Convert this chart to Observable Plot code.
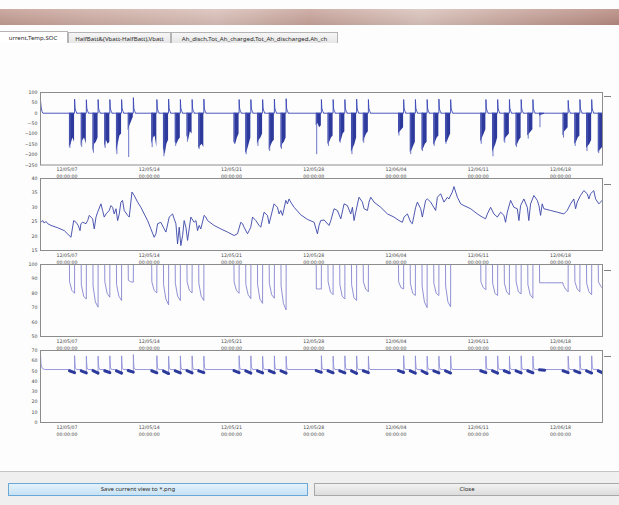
<!DOCTYPE html>
<html><head><meta charset="utf-8">
<script src="https://cdn.jsdelivr.net/npm/d3@7"></script>
<script src="https://cdn.jsdelivr.net/npm/@observablehq/plot@0.6"></script>
<style>
html,body{margin:0;padding:0;width:619px;height:505px;overflow:hidden;background:#fdfdfd;font-family:"Noto Sans",sans-serif;position:relative;}
#band{position:absolute;left:0;top:9px;width:619px;height:16px;
 background:linear-gradient(to right,#c39c92 0%,#cfaea5 15%,#d9c0b8 35%,#c7a39a 50%,#dac3bb 68%,#caa9a0 82%,#b68a80 100%);}
#band2{position:absolute;left:0;top:9px;width:619px;height:16px;background:linear-gradient(to bottom,rgba(255,255,255,0.15),rgba(0,0,0,0.06));}
.tab{position:absolute;top:32px;height:11px;border:1px solid #b4b4b4;border-bottom:none;background:linear-gradient(#f6f6f6,#e6e6e6);
 font-size:6.1px;line-height:11px;color:#2a2a2a;white-space:nowrap;text-align:center;box-sizing:border-box;}
.tab.active{background:#fff;height:12px;top:31px;}
#sep{position:absolute;left:0;top:471px;width:619px;height:34px;background:#efefef;border-top:1px solid #c4c4c4;}
.btn{position:absolute;top:483px;height:13px;box-sizing:border-box;font-size:6px;line-height:11px;color:#2a2a2a;text-align:center;white-space:nowrap;}
#save{left:8px;width:300px;border:1px solid #6aa8d8;background:linear-gradient(#e4f2fb,#c6e2f5);}
#close{left:314px;width:320px;border:1px solid #a8a8a8;background:linear-gradient(#f2f2f2,#dcdcdc);}
.leg{position:absolute;left:604px;width:7px;height:1px;background:#808080;}
</style></head>
<body>
<div id="band"></div><div id="band2"></div>
<div class="tab active" style="left:-2px;width:70px;">urrent,Temp,SOC</div>
<div class="tab" style="left:68px;width:103px;">HalfBatt&amp;(Vbatt-HalfBatt),Vbatt</div>
<div class="tab" style="left:171px;width:167px;">Ah_disch,Tot_Ah_charged,Tot_Ah_discharged,Ah_ch</div>
<div id="sep"></div>
<div class="btn" id="save" style="text-indent:-40px">Save current view to *.png</div>
<div class="btn" id="close" style="text-indent:-14px">Close</div>
<div class="leg" style="top:96px"></div>
<div class="leg" style="top:184px"></div>
<div class="leg" style="top:270px"></div>
<div class="leg" style="top:356px"></div>
<script>
// ---------- time axis ----------
const BASE = Date.UTC(2012, 4, 7);          // 12/05/07 00:00:00 (Monday)
const DAY = 864e5, HOUR = 36e5;
const at = (day, hour = 0) => new Date(BASE + day * DAY + hour * HOUR);
const xStartDay = -2.253, xEndDay = 45.57;
const tickDates = ["2012-05-07", "2012-05-14", "2012-05-21", "2012-05-28", "2012-06-04", "2012-06-11", "2012-06-18"];
const tickLabels = ["12/05/07\n00:00:00", "12/05/14\n00:00:00", "12/05/21\n00:00:00", "12/05/28\n00:00:00",
                    "12/06/04\n00:00:00", "12/06/11\n00:00:00", "12/06/18\n00:00:00"];

// ---------- y ticks ----------
const currentTicks = [100, 50, 0, -50, -100, -150, -200, -250];
const tempTicks = [15, 20, 25, 30, 35, 40];
const socTicks = [50, 60, 70, 80, 90, 100];
const voltTicks = [0, 10, 20, 30, 40, 50, 60, 70];

// ---------- working cycles (day offsets from 12/05/07) ----------
const cycleDay = [0, 1, 2, 3, 4, 5, 7, 8, 9, 10, 11, 14, 15, 16, 17, 18, 21, 22, 23, 24, 25,
                  28, 29, 30, 31, 32, 35, 36, 37, 38, 39, 40, 42, 43, 44, 45];
const dischargeHours = [5, 8.5, 12, 15.5];
const chargeHours = [15.6, 16.5, 18, 19.5, 19.6];
const chargeTail = [25, 10, 6, 0];

// Current (A)
const initCurrent = [[-2.26, 0], [-2.25, 58], [-2.19, 25], [-2.12, 8], [-2.05, 0]];
const currentEnvelope = [
  [-165, -150, -120, -140], [-160, -130, -120, -150], [-185, -150, -140, -120], [-165, -130, -150, -140], [-190, -150, -110, -100], [-85, -60, -40, -20],
  [-150, -120, -110, -165], [-170, -200, -150, -130], [-140, -150, -130, -120], [-110, -130, -90, -100], [-170, -160, -150, -165],
  [-140, -150, -120, -100], [-195, -180, -150, -120], [-150, -130, -120, -100], [-180, -160, -140, -130], [-170, -150, -140, -120],
  [-60, -50, -70, -60], [-150, -140, -120, -110], [-140, -130, -100, -90], [-190, -170, -150, -120], [-140, -120, -100, -90],
  [-100, -90, -80, -70], [-190, -180, -160, -140], [-180, -170, -150, -140], [-155, -140, -120, -110], [-140, -140, -120, -100],
  [-140, -120, -100, -80], [-190, -170, -150, -120], [-140, -120, -110, -100], [-160, -150, -130, -120], [-110, -100, -90, -80], [-15, -10, -8, -5],
  [-110, -90, -80, -70], [-150, -140, -120, -110], [-170, -160, -150, -130], [-190, -180, -170, -160]
];
const currentMin = [-170, -165, -193, -170, -200, -214, -166, -210, -160, -140, -175, -150, -200, -160, -185, -175,
                    -200, -160, -145, -200, -145, -110, -200, -185, -160, -150, -150, -210, -145, -165, -125, -70,
                    -120, -160, -185, -195];
const chargePeak = [68, 65, 66, 66, 66, 75, 66, 68, 66, 66, 68, 66, 66, 66, 68, 70, 66, 66, 66, 68, 66,
                    66, 66, 66, 68, 66, 66, 66, 66, 66, 66, 0, 62, 66, 66, 0];

// Temperature (°C)
const tempDay = [-2.21, -2.07, -1.93, -1.79, -1.64, -1.36, -0.79, -0.23, 0.34, 0.57, 0.77, 0.96, 1.11, 1.19, 1.33, 1.62, 1.76, 1.90,
  2.18, 2.32, 2.47, 2.61, 2.89, 3.03, 3.17, 3.32, 3.60, 3.74, 3.88, 4.02, 4.17, 4.31, 4.45, 4.59, 4.73, 4.87, 5.16, 5.30,
  5.53, 5.72, 6.01, 6.29, 6.57, 6.86, 7.14, 7.42, 7.57, 7.71, 7.99, 8.27, 8.42, 8.70, 8.99, 9.12, 9.27, 9.41, 9.55, 9.69,
  9.84, 9.97, 10.12, 10.26, 10.54, 10.82, 10.97, 11.11, 11.25, 11.39, 11.67, 11.82, 11.96, 12.52, 13.09, 13.66, 14.22,
  14.51, 14.79, 14.94, 15.07, 15.36, 15.50, 15.64, 15.79, 16.07, 16.35, 16.49, 16.77, 17.06, 17.20, 17.34, 17.62, 17.91,
  18.05, 18.19, 18.34, 18.47, 18.62, 18.76, 18.90, 19.04, 19.33, 19.89, 20.46, 21.03, 21.31, 21.45, 21.59, 21.88, 22.30,
  22.45, 22.73, 23.01, 23.30, 23.58, 23.86, 24.15, 24.29, 24.43, 24.57, 24.85, 25.14, 25.28, 25.57, 25.70, 25.85, 26.13,
  26.70, 27.27, 27.83, 28.25, 28.54, 28.68, 28.97, 29.25, 29.39, 29.67, 29.82, 30.10, 30.24, 30.52, 30.67, 30.95, 31.37,
  31.52, 31.80, 32.08, 32.37, 32.50, 32.79, 32.93, 33.22, 33.50, 33.78, 34.35, 34.92, 35.34, 35.62, 35.77, 36.05, 36.33,
  36.62, 36.90, 37.18, 37.32, 37.47, 37.75, 38.03, 38.32, 38.46, 38.60, 38.88, 39.17, 39.30, 39.45, 39.73, 40.02, 40.16,
  40.30, 40.44, 40.58, 41.15, 41.72, 42.28, 42.57, 42.85, 43.13, 43.28, 43.42, 43.70, 43.98, 44.27, 44.41, 44.55, 44.83,
  44.98, 45.26, 45.54];
const tempVal = [24.8, 25.4, 24.5, 25.1, 24.3, 23.7, 22.9, 21.9, 19.6, 25.4, 24.8, 23.7, 21.9, 24.3, 24.8, 24.3, 25.4, 27.2,
  26.0, 22.5, 26.6, 28.3, 31.2, 28.9, 26.6, 27.7, 28.9, 30.6, 30.0, 27.7, 29.5, 25.4, 27.7, 31.8, 32.4, 28.9, 27.2, 26.6,
  35.3, 34.1, 31.8, 30.0, 27.7, 25.4, 22.5, 19.6, 20.8, 24.3, 24.8, 22.5, 21.4, 26.6, 27.7, 26.0, 24.3, 17.3, 23.1, 16.7,
  20.2, 25.4, 23.1, 18.5, 26.6, 24.8, 25.4, 21.9, 23.7, 22.5, 27.2, 26.6, 25.4, 23.7, 22.5, 21.4, 20.2,
  20.8, 24.8, 24.3, 23.1, 20.8, 21.9, 23.1, 26.6, 25.4, 23.7, 23.1, 28.3, 27.2, 24.3, 26.6, 31.2, 30.0,
  27.7, 28.9, 27.2, 29.5, 32.4, 31.2, 32.9, 31.8, 30.0, 27.4, 25.8, 24.8, 20.8, 23.7, 25.4, 25.6, 23.7,
  25.4, 29.5, 28.9, 26.0, 31.2, 30.6, 27.7, 30.0, 25.4, 28.3, 33.5, 31.8, 29.5, 28.9, 31.8, 33.5, 31.8,
  30.0, 27.7, 26.6, 25.4, 24.8, 26.6, 27.7, 24.8, 24.3, 30.0, 31.8, 29.5, 26.6, 32.4, 32.9, 31.8, 28.9,
  33.5, 34.7, 31.8, 33.5, 32.9, 35.3, 37.2, 33.5, 31.2, 30.6, 29.5, 27.7, 26.6, 26.0, 27.7, 30.0, 27.7,
  26.6, 28.3, 27.2, 24.8, 28.3, 32.4, 30.0, 29.5, 25.4, 30.6, 32.9, 30.0, 25.4, 31.2, 34.1, 32.4, 30.6,
  27.2, 31.2, 29.5, 28.9, 28.3, 27.7, 28.9, 31.2, 32.9, 29.5, 31.8, 34.1, 35.8, 34.7, 32.9, 34.7, 35.8,
  32.9, 31.2, 32.4];

// SOC (%) per cycle: [after first drop, middle of shift, end of shift]
const initSoc = [[-2.26, 85], [-2.245, 100]];
const socProfile = [
  [88, 82, 80], [86, 78, 76], [85, 74, 70.4], [88, 80, 77.3], [86, 78, 75], [89, 88, 87.7],
  [88, 82, 80.3], [86, 76, 72], [87, 78, 75], [88, 82, 80.3], [87, 78, 75],
  [88, 82, 80], [86, 79, 76.2], [86, 76, 73], [87, 79, 76.6], [85, 73, 68.5],
  [83, 83, 83], [88, 81, 79], [86, 78, 76], [86, 77, 75], [88, 83, 81],
  [88, 84, 83], [87, 80, 78.5], [85, 74, 70], [87, 80, 78.5], [85, 74, 70.6],
  [88, 84, 82.5], [87, 80, 78.5], [87, 81, 79], [88, 81, 79.6], [86, 79, 76.6], [87.3, 87.3, 87.3],
  [86, 83, 81], [88, 83, 81], [87, 81, 79], [88, 85, 83]
];

// Voltage (V)
const initVolt = [[-2.26, 51], [-2.25, 65], [-2.2, 56], [-2.1, 52.5], [-1.9, 51.5]];
const voltRest = 51.5;
const voltStart = [50.3, 50.2, 50.4, 50.3, 50.2, 50.6, 50.3, 50.0, 50.3, 50.4, 50.2, 50.4, 50.2, 50.3, 50.3, 50.1,
                   50.5, 50.3, 50.2, 50.2, 50.3, 50.4, 50.2, 50.1, 50.3, 50.2, 50.3, 50.2, 50.3, 50.2, 50.3, 51.2,
                   50.3, 50.2, 50.2, 50.2];
const voltEnd = [48.5, 48.2, 48.0, 48.4, 48.0, 49.0, 48.3, 47.6, 48.2, 48.3, 48.5, 48.4, 48.0, 48.2, 48.3, 48.0,
                 48.8, 48.3, 48.2, 47.8, 48.4, 48.6, 48.0, 47.6, 48.2, 48.1, 48.4, 48.0, 48.3, 48.2, 48.3, 50.8,
                 48.5, 48.3, 48.1, 48.0];
const voltPeak = [65, 64.5, 64.5, 64.8, 64.8, 66, 65, 64.5, 64.8, 64.8, 64.5, 65, 64.8, 64.5, 64.8, 64.5,
                  65, 64.5, 64.8, 64.8, 64.5, 65, 64.8, 64.5, 64.5, 64.8, 64.5, 64.8, 64.5, 64.8, 64.5, 0,
                  64.5, 64.8, 64.8, 0];
const voltSpikeHours = [15.6, 16.2, 17, 19];
const voltSpikeTail = [58, 53.5];

// ---------- build tables ----------
const curLine = initCurrent.map(([d, v]) => ({x: at(d), y: v}));
const curArea = [], curStrand = [];
cycleDay.forEach((d, i) => {
  curLine.push({x: at(d, dischargeHours[0]), y: 0}, {x: at(d, dischargeHours[3]), y: 0});
  if (chargePeak[i] > 0) {
    curLine.push({x: at(d, chargeHours[0]), y: chargePeak[i]});
    chargeTail.forEach((v, k) => curLine.push({x: at(d, chargeHours[k + 1]), y: v}));
  }
  dischargeHours.forEach((h, k) => curArea.push({x: at(d, h), y: currentEnvelope[i][k], c: i}));
  curStrand.push({x: at(d, 6), y: currentMin[i]});
});
curLine.push({x: at(47), y: 0});

const tempLine = tempDay.map((d, i) => ({x: at(d), y: tempVal[i]}));

const socLine = initSoc.map(([d, v]) => ({x: at(d), y: v}));
let level = 100;
cycleDay.forEach((d, i) => {
  const [knee, mid, min] = socProfile[i];
  socLine.push({x: at(d, 5), y: level}, {x: at(d, 5.3), y: knee}, {x: at(d, 10), y: mid}, {x: at(d, 15.5), y: min});
  if (chargePeak[i] > 0) { socLine.push({x: at(d, 15.6), y: 100}); level = 100; } else level = min;
});
socLine.push({x: at(47), y: level});

const voltLine = initVolt.map(([d, v]) => ({x: at(d), y: v}));
const voltBlob = [];
cycleDay.forEach((d, i) => {
  voltLine.push({x: at(d, 5), y: voltRest}, {x: at(d, 5.1), y: voltStart[i]}, {x: at(d, 15.5), y: voltEnd[i]});
  voltBlob.push({x: at(d, 5.1), y: voltStart[i], c: i}, {x: at(d, 15.5), y: voltEnd[i], c: i});
  if (voltPeak[i] > 0) {
    voltLine.push({x: at(d, voltSpikeHours[0]), y: voltPeak[i]},
                  {x: at(d, voltSpikeHours[1]), y: voltSpikeTail[0]},
                  {x: at(d, voltSpikeHours[2]), y: voltSpikeTail[1]},
                  {x: at(d, voltSpikeHours[3]), y: voltRest});
  } else voltLine.push({x: at(d, 15.6), y: voltRest});
});
voltLine.push({x: at(47), y: voltRest});

// ---------- panels ----------
const tickDateObjs = tickDates.map(s => new Date(s + "T00:00:00Z"));
function panel(frameTop, frameH, yDomain, yTicks, marks) {
  const mt = 4, mb = 16;
  const svg = Plot.plot({
    width: 619, height: mt + frameH + mb,
    marginLeft: 40, marginRight: 17, marginTop: mt, marginBottom: mb,
    style: {fontFamily: "DejaVu Sans", background: "transparent", overflow: "visible"},
    x: {type: "utc", domain: [at(xStartDay), at(xEndDay)]},
    y: {domain: yDomain},
    marks: [
      ...marks,
      Plot.frame({stroke: "#8c8c8c", strokeWidth: 1}),
      Plot.axisX(tickDateObjs, {tickSize: 0, tickPadding: 1.6, fontSize: 4.7, lineHeight: 1.42, fill: "#4a4a4a", label: null,
        tickFormat: d => tickLabels[tickDateObjs.findIndex(t => +t === +d)]}),
      Plot.axisY(yTicks, {tickSize: 0, tickPadding: 3, fontSize: 4.7, fill: "#4a4a4a", label: null})
    ]
  });
  svg.style.position = "absolute";
  svg.style.left = "0px";
  svg.style.top = (frameTop - mt) + "px";
  document.body.append(svg);
}

panel(91.5, 72.5, [-250, 100], currentTicks, [
  Plot.areaY(curArea, {x: "x", y1: 0, y2: "y", z: "c", fill: "#2d3a9c", clip: true}),
  Plot.ruleX(curStrand, {x: "x", y1: 0, y2: "y", stroke: "#5b66c2", strokeWidth: 0.9, clip: true}),
  Plot.lineY(curLine, {x: "x", y: "y", stroke: "#3947b5", strokeWidth: 0.9, clip: true})
]);
panel(178, 72, [15, 40], tempTicks, [
  Plot.lineY(tempLine, {x: "x", y: "y", stroke: "#3a45a8", strokeWidth: 0.9, clip: true})
]);
panel(264, 72, [50, 100], socTicks, [
  Plot.lineY(socLine, {x: "x", y: "y", stroke: "#8484d0", strokeWidth: 0.9, clip: true})
]);
panel(350, 72, [0, 70], voltTicks, [
  Plot.lineY(voltLine, {x: "x", y: "y", stroke: "#9090d8", strokeWidth: 0.9, clip: true}),
  Plot.lineY(voltBlob, {x: "x", y: "y", z: "c", stroke: "#2c3a9c", strokeWidth: 3, clip: true})
]);
</script>
</body></html>
